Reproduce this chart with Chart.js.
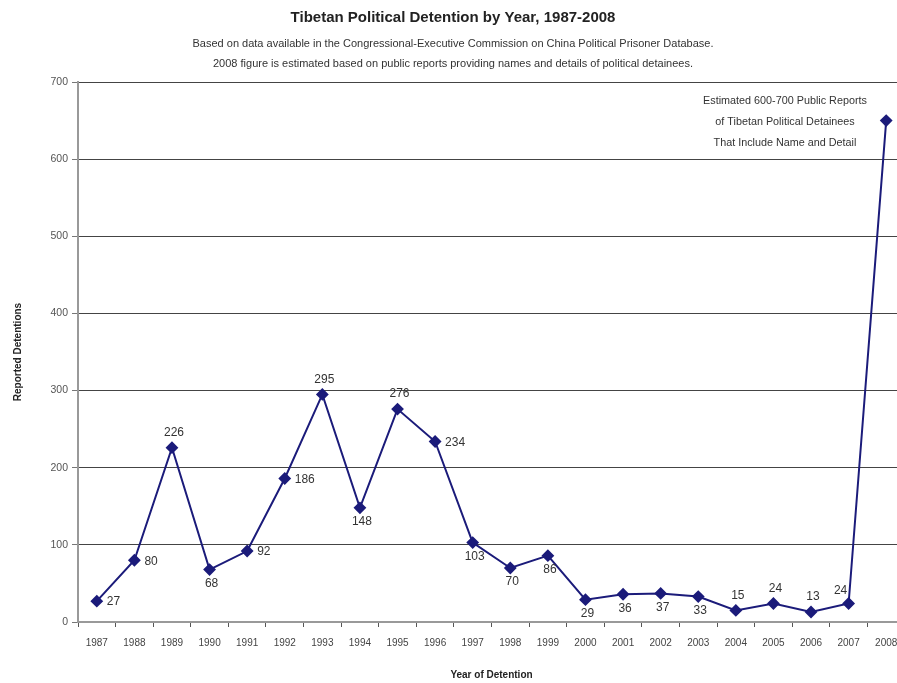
<!DOCTYPE html>
<html>
<head>
<meta charset="utf-8">
<title>Tibetan Political Detention by Year</title>
<script src="https://cdn.jsdelivr.net/npm/chart.js@4.4.1/dist/chart.umd.min.js"></script>
<style>
    html, body { margin: 0; padding: 0; background: #fff; overflow: hidden; }
    #wrap { position: relative; width: 897px; height: 683px; overflow: hidden; }
    canvas { position: absolute; left: 0; top: 0; }
</style>
</head>
<body>
<div id="wrap"><canvas id="detentionChart" width="912" height="683"></canvas></div>
<script>
const years = ['1987', '1988', '1989', '1990', '1991', '1992', '1993', '1994', '1995', '1996', '1997',
               '1998', '1999', '2000', '2001', '2002', '2003', '2004', '2005', '2006', '2007', '2008'];
const detentions = [27, 80, 226, 68, 92, 186, 295, 148, 276, 234, 103,
                    70, 86, 29, 36, 37, 33, 15, 24, 13, 24, 650];
// where each value label sits next to its point (2008 has none)
const labelPlacement = ['right', 'right', 'above', 'below', 'right', 'right', 'above', 'below', 'above', 'right', 'below',
                        'below', 'below', 'below', 'below', 'below', 'below', 'above', 'above', 'above', 'aboveLeft', 'none'];
const yTicks = [0, 100, 200, 300, 400, 500, 600, 700];
const noteLines = ['Estimated 600-700 Public Reports', 'of Tibetan Political Detainees', 'That Include Name and Detail'];

const FONT = "'Liberation Sans', Arial, sans-serif";

const valueLabels = {
    id: 'valueLabels',
    afterDatasetsDraw(chart) {
        const ctx = chart.ctx;
        const points = chart.getDatasetMeta(0).data;
        ctx.save();
        ctx.font = '12px ' + FONT;
        ctx.fillStyle = '#333';
        ctx.textBaseline = 'middle';
        points.forEach(function(pt, i) {
            let place = labelPlacement[i];
            if (place === 'none') return;
            let text = String(detentions[i]);
            if (place === 'right') {
                ctx.textAlign = 'left';
                ctx.fillText(text, pt.x + 10, pt.y + 1);
            } else if (place === 'above') {
                ctx.textAlign = 'center';
                ctx.fillText(text, pt.x + 2, pt.y - 15);
            } else if (place === 'aboveLeft') {
                ctx.textAlign = 'center';
                ctx.fillText(text, pt.x - 8, pt.y - 13);
            } else {
                ctx.textAlign = 'center';
                ctx.fillText(text, pt.x + 2, pt.y + 14);
            }
        });

        // note in the top right corner
        ctx.font = '10.8px ' + FONT;
        ctx.textAlign = 'center';
        ctx.fillStyle = '#333';
        noteLines.forEach(function(line, i) {
            ctx.fillText(line, 785, 101 + i * 21);
        });
        ctx.restore();
    }
};

new Chart(document.getElementById('detentionChart'), {
    type: 'line',
    data: {
        labels: years,
        datasets: [{
            label: 'Reported Detentions',
            data: detentions,
            borderColor: '#1b1b7a',
            backgroundColor: '#1b1b7a',
            borderWidth: 2,
            pointStyle: 'rectRot',
            pointRadius: 5,
            pointHoverRadius: 5,
            tension: 0
        }]
    },
    options: {
        responsive: false,
        animation: false,
        layout: { padding: { left: 0, right: 6, top: 0, bottom: 0 } },
        plugins: {
            legend: { display: false },
            tooltip: { enabled: false },
            title: {
                display: true,
                text: 'Tibetan Political Detention by Year, 1987-2008',
                color: '#222',
                font: { family: FONT, size: 15, weight: 'bold', lineHeight: 1.2 },
                padding: { top: 9, bottom: 5 }
            },
            subtitle: {
                display: true,
                text: ['Based on data available in the Congressional-Executive Commission on China Political Prisoner Database.',
                       '2008 figure is estimated based on public reports providing names and details of political detainees.'],
                color: '#333',
                font: { family: FONT, size: 11, lineHeight: '20px' },
                padding: { top: 2, bottom: 8 }
            }
        },
        scales: {
            x: {
                type: 'category',
                offset: true,
                grid: { drawOnChartArea: false, drawTicks: true, tickLength: 5, color: '#555', offset: true },
                border: { display: true, color: '#999', width: 2 },
                ticks: { color: '#444', font: { family: FONT, size: 10 }, padding: 10, maxRotation: 0, autoSkip: false },
                title: { display: true, text: 'Year of Detention', color: '#222', font: { family: FONT, size: 10, weight: 'bold' }, padding: 2 },
                afterFit: function(scale) { scale.height = 61; }
            },
            y: {
                min: 0,
                max: 700,
                afterBuildTicks: function(scale) { scale.ticks = yTicks.map(v => ({ value: v })); },
                grid: { color: '#444', lineWidth: 1, tickLength: 6, tickColor: '#777' },
                border: { display: true, color: '#999', width: 2 },
                ticks: { color: '#555', font: { family: FONT, size: 10.5 }, padding: 4 },
                title: { display: true, text: 'Reported Detentions', color: '#222', font: { family: FONT, size: 10, weight: 'bold' }, padding: 12 },
                afterFit: function(scale) { scale.width = 78; }
            }
        }
    },
    plugins: [valueLabels]
});
</script>
</body>
</html>
